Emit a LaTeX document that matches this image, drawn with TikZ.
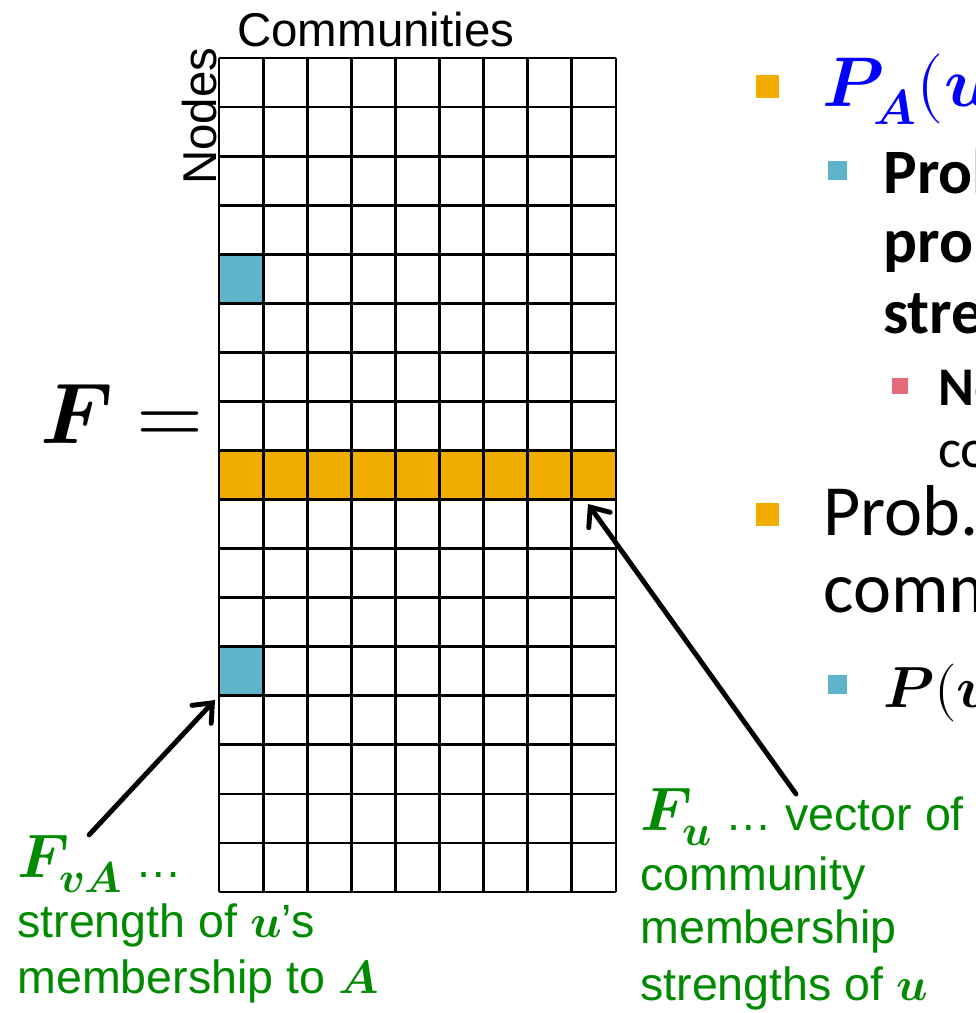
\documentclass[tikz,border=0pt]{standalone}
\usepackage{amsmath}
\usepackage{fontspec}
\usepackage{unicode-math}
\setmainfont{Liberation Sans}
\setmathfont{Latin Modern Math}
\newfontfamily\calibri{Carlito}
\usetikzlibrary{arrows.meta}
\definecolor{memOrange}{HTML}{F0AD00}
\definecolor{memBlue}{HTML}{5FB4CC}
\definecolor{memRed}{HTML}{E46C7A}
\definecolor{noteGreen}{HTML}{008A00}
\definecolor{mathBlue}{HTML}{0000FF}

\begin{document}
\begin{tikzpicture}[x=0.02cm, y=-0.02cm,
    txt/.style={anchor=base west, inner sep=0pt},
    arial/.style={txt, font=\fontsize{27}{32}\selectfont},
    greenline/.style={txt, text=noteGreen, font=\fontsize{26.5}{31}\selectfont},
    lvlone/.style={txt, font=\calibri\fontsize{41}{48}\selectfont},
    lvltwo/.style={txt, font=\calibri\bfseries\fontsize{36}{42}\selectfont},
    lvlthree/.style={txt, font=\calibri\fontsize{31}{36}\selectfont},
    sqbullet/.style={rectangle, inner sep=0pt, minimum size=#1},
    pointer/.style={line width=2.8pt, line cap=round, -{Straight Barb[length=9pt, width=15pt, line cap=round]}}]
    \clip (0,0) rectangle (975,1013);
    % highlighted cells
    \fill[memBlue] (219,254.2) rectangle +(44.11,49.06);
    \fill[memBlue] (219,646.7) rectangle +(44.11,49.06);
    \fill[memOrange] (219,450.5) rectangle (616,499.6);
    % membership matrix
    \foreach \c in {0,...,9}
      \draw[line width=1.6pt] ({219+\c*44.11},58) -- ({219+\c*44.11},892);
    \foreach \r in {0,...,17}
      \draw[line width=1.6pt] (219,{58+\r*49.06}) -- (616,{58+\r*49.06});
    \coordinate (vaTip) at (215,700);
    \coordinate (uTip) at (588,504);
    \coordinate (uTail) at (796,794);
    \node[arial] (comm) at (237,47) {Communities};
    \node[arial, rotate=90] (nodes) at (216,185) {Nodes};
    \node[txt, font=\fontsize{49}{56}\selectfont] (feq) at (40,443) {$\symbfit{F} =$};
    % labels below
    \node[greenline] (fva) at (17,877) {{\fontsize{35}{40}\selectfont$\symbfit{F}_{\symbfit{vA}}$} \dots};
    \node[greenline] (fvatwo) at (17,937) {strength of $\symbfit{u}$’s};
    \node[greenline] (fvathree) at (17,993) {membership to $\symbfit{A}$};
    \node[greenline] (fu) at (640,830) {{\fontsize{35}{40}\selectfont$\symbfit{F}_{\symbfit{u}}$} \dots\ vector of};
    \node[greenline] (futwo) at (640,890) {community};
    \node[greenline] (futhree) at (640,943) {membership};
    \node[greenline] (fufour) at (640,1000) {strengths of $\symbfit{u}$};
    \draw[pointer] ([xshift=-6pt]fva.north) -- (vaTip);
    \draw[pointer] (uTail) -- (uTip);
    % bullets on the right
    \node[sqbullet=0.46cm, fill=memOrange] (bone) at (767.5,86.5) {};
    \node[txt, text=mathBlue, font=\fontsize{40}{46}\selectfont] (pa) at (822,107) {$\symbfit{P}_{\symbfit{A}}\symbf{(}\symbfit{u},\symbfit{v}\symbf{)}$};
    \node[sqbullet=0.38cm, fill=memBlue] (btwo) at (837.5,170.5) {};
    \node[lvltwo] (probone) at (883,194) {Probability};
    \node[lvltwo] (probtwo) at (883,263) {proportional};
    \node[lvltwo] (probthree) at (883,333) {strength};
    \node[sqbullet=0.32cm, fill=memRed] (bthree) at (900,385.5) {};
    \node[lvlthree, font=\calibri\bfseries\fontsize{31}{36}\selectfont] (noteone) at (938,405) {Note};
    \node[lvlthree] (notetwo) at (938,467) {communities};
    \node[sqbullet=0.46cm, fill=memOrange] (bfour) at (767.5,514.5) {};
    \node[lvlone] (probc) at (823,535) {Prob. that};
    \node[lvlone] (probctwo) at (823,612) {community};
    \node[sqbullet=0.38cm, fill=memBlue] (bfive) at (837.5,684.5) {};
    \node[txt, font=\fontsize{33}{38}\selectfont] (puv) at (883,707) {$\symbfit{P}(\symbfit{u},\symbfit{v})$};
\end{tikzpicture}
\end{document}
